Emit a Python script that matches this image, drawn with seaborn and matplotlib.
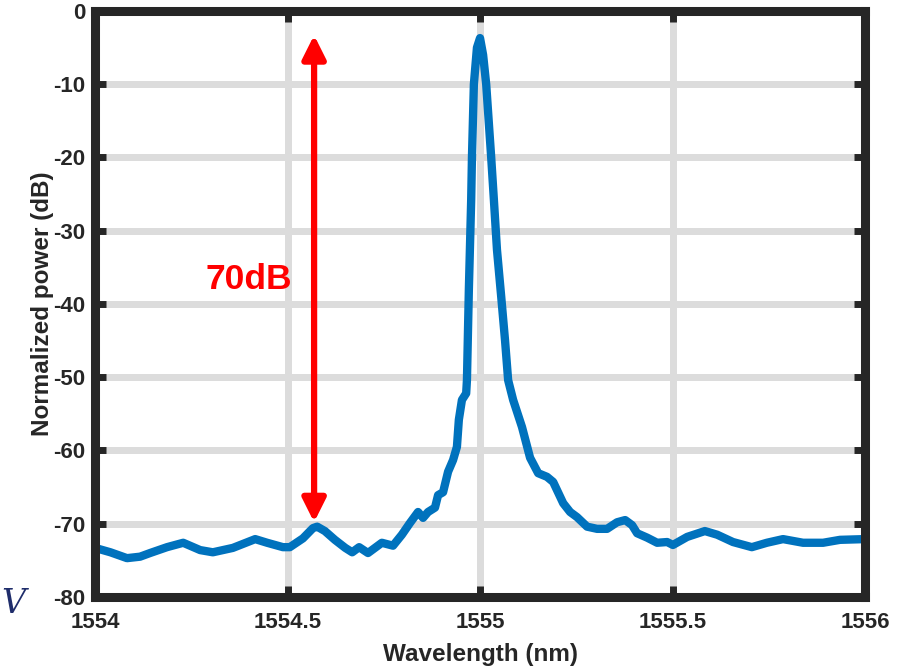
import matplotlib
matplotlib.use("Agg")
import matplotlib.pyplot as plt
import numpy as np
import pandas as pd
import seaborn as sns

# Optical spectrum around the lasing line
wavelength_nm = [
    1554.000, 1554.040, 1554.083, 1554.117, 1554.143, 1554.187, 1554.229,
    1554.273, 1554.306, 1554.358, 1554.416, 1554.447, 1554.488, 1554.506,
    1554.540, 1554.566, 1554.577, 1554.597, 1554.623, 1554.650, 1554.668,
    1554.686, 1554.709, 1554.745, 1554.774, 1554.797, 1554.818, 1554.839,
    1554.852, 1554.865, 1554.883, 1554.891, 1554.904, 1554.917, 1554.930,
    1554.940, 1554.945, 1554.953, 1554.964, 1554.966, 1554.971, 1554.977,
    1554.979, 1554.984, 1554.992, 1555.000, 1555.008, 1555.016, 1555.029,
    1555.036, 1555.044, 1555.055, 1555.065, 1555.073, 1555.086, 1555.109,
    1555.130, 1555.151, 1555.174, 1555.190, 1555.216, 1555.234, 1555.252,
    1555.278, 1555.304, 1555.330, 1555.356, 1555.377, 1555.395, 1555.408,
    1555.434, 1555.460, 1555.486, 1555.501, 1555.538, 1555.584, 1555.616,
    1555.657, 1555.706, 1555.745, 1555.787, 1555.839, 1555.891, 1555.935,
    1556.000,
]
power_db = [
    -73.3, -73.9, -74.7, -74.5, -74.0, -73.2, -72.6,
    -73.6, -73.9, -73.3, -72.1, -72.6, -73.2, -73.2,
    -72.0, -70.6, -70.4, -71.0, -72.2, -73.3, -73.9,
    -73.2, -74.0, -72.6, -73.0, -71.5, -69.9, -68.4,
    -69.2, -68.4, -67.8, -66.1, -65.7, -62.9, -61.3,
    -59.5, -55.8, -53.1, -52.2, -50.4, -38.0, -25.8,
    -20.0, -10.0, -5.0, -3.7, -6.0, -10.0, -20.0,
    -25.8, -32.6, -39.0, -45.0, -50.4, -53.1, -56.8,
    -61.0, -63.1, -63.6, -64.3, -67.2, -68.4, -69.1,
    -70.4, -70.7, -70.7, -69.8, -69.5, -70.2, -71.3,
    -71.9, -72.6, -72.5, -72.9, -71.8, -71.0, -71.5,
    -72.5, -73.2, -72.6, -72.1, -72.6, -72.6, -72.2,
    -72.1,
]

x_ticks = [1554, 1554.5, 1555, 1555.5, 1556]
x_tick_labels = ["1554", "1554.5", "1555", "1555.5", "1556"]
y_ticks = [-80, -70, -60, -50, -40, -30, -20, -10, 0]

# Side-mode suppression annotation
smsr_x = 1554.569
smsr_top = -3.3
smsr_bottom = -69.8
smsr_label = "70dB"

sns.set_theme(style="white")
plt.rcParams["font.family"] = ["Liberation Sans", "DejaVu Sans"]
plt.rcParams["font.weight"] = "bold"
plt.rcParams["axes.unicode_minus"] = False

dark = "#262626"
fig = plt.figure(figsize=(9.12, 6.70), dpi=100)
ax = fig.add_axes([0.1042, 0.1090, 0.8443, 0.8746])

df = pd.DataFrame({"Wavelength (nm)": wavelength_nm, "Normalized power (dB)": power_db})
sns.lineplot(data=df, x="Wavelength (nm)", y="Normalized power (dB)", ax=ax,
             color="#0072BD", linewidth=6.0, zorder=3)
for ln in ax.get_lines():
    ln.set_solid_joinstyle("round")
    ln.set_solid_capstyle("round")

ax.set_xlim(1554, 1556)
ax.set_ylim(-80, 0)
ax.set_xticks(x_ticks)
ax.set_xticklabels(x_tick_labels)
ax.set_yticks(y_ticks)

ax.grid(True, color="#dcdcdc", linewidth=5.0, zorder=0)
ax.set_axisbelow(True)

for side in ["left", "right", "top", "bottom"]:
    ax.spines[side].set_visible(True)
    ax.spines[side].set_color(dark)
    ax.spines[side].set_linewidth(6.5)
    ax.spines[side].set_zorder(5)

ax.tick_params(axis="both", which="major", direction="in", length=8, width=5,
               color=dark, labelcolor=dark, labelsize=16,
               top=True, right=True, bottom=True, left=True)
ax.tick_params(axis="x", pad=11)
ax.tick_params(axis="y", pad=7)
for lbl in ax.get_xticklabels() + ax.get_yticklabels():
    lbl.set_fontweight("bold")

ax.set_xlabel("Wavelength (nm)", fontsize=17.5, fontweight="bold", color=dark, labelpad=7)
ax.set_ylabel("Normalized power (dB)", fontsize=17.5, fontweight="bold", color=dark, labelpad=-1)

ax.annotate("", xy=(smsr_x, smsr_top), xytext=(smsr_x, smsr_bottom),
            arrowprops=dict(arrowstyle="<|-|>,head_length=0.7,head_width=0.35",
                            mutation_scale=20, color="#ff0000", lw=4.5,
                            shrinkA=0, shrinkB=0), zorder=4)
ax.text(1554.4, -36.7, smsr_label, color="#ff0000", fontsize=25.5, fontweight="bold",
        ha="center", va="center", zorder=4)

fig.text(0.001, 0.098, "V", fontsize=24, fontstyle="italic", family="DejaVu Serif",
         color="#1f2d6b", ha="left", va="center", fontweight="normal")

fig.savefig("out.png", dpi=100)
